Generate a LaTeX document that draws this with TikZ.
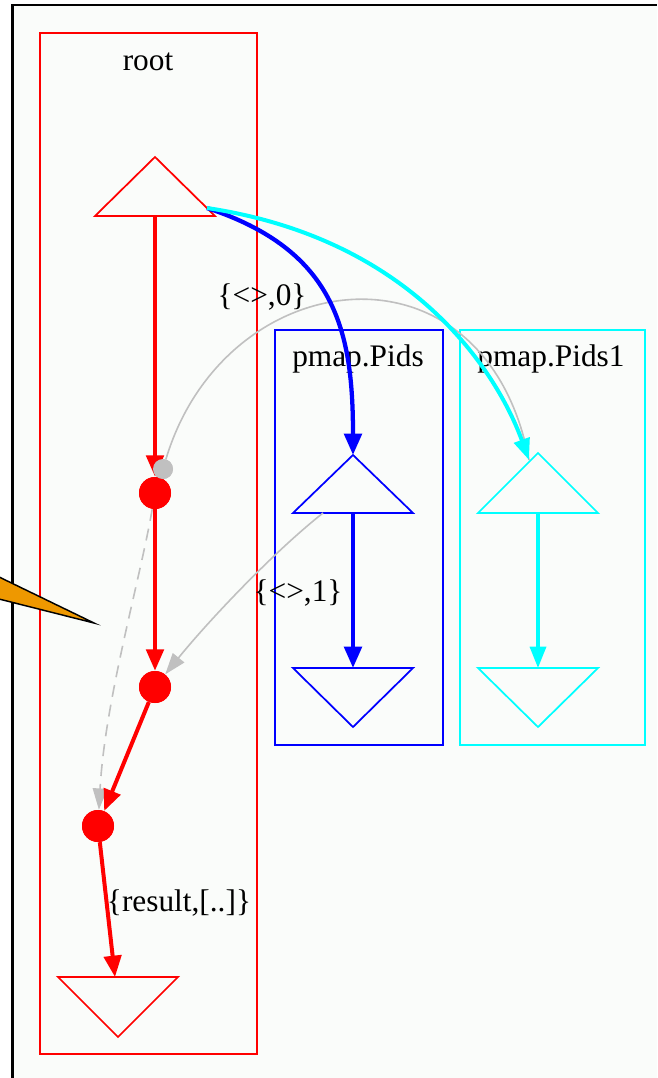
\documentclass[tikz,border=0pt]{standalone}
\usepackage{fontspec}
\setmainfont{Liberation Serif}
\usetikzlibrary{arrows.meta}
\definecolor{bgc}{RGB}{250,252,250}
\definecolor{edgegray}{RGB}{192,192,192}
\definecolor{calloutc}{RGB}{238,152,0}
\definecolor{cyn}{RGB}{0,255,255}
\definecolor{blu}{RGB}{0,0,255}
\definecolor{rd}{RGB}{255,0,0}
\begin{document}
\begin{tikzpicture}[x=0.75pt,y=-0.75pt,
  lbl/.style={font=\fontsize{23.5}{28}\selectfont, inner sep=0pt},
  cluster/.style={line width=1.4pt},
  tri/.style={line width=1.3pt, line join=miter},
  dotnode/.style={circle, fill=rd, inner sep=0pt, minimum size=24pt},
  tailnode/.style={circle, fill=edgegray, inner sep=0pt, minimum size=15pt},
  redge/.style={draw=rd, line width=3pt, -{Triangle[length=16pt,width=13pt]}},
  bedge/.style={draw=blu, line width=3.2pt, -{Triangle[length=16pt,width=13pt]}},
  cedge/.style={draw=cyn, line width=3pt, -{Triangle[length=16pt,width=12pt]}},
  gedge/.style={draw=edgegray, line width=1.2pt},
  garrow/.style={-{Triangle[length=16pt,width=11pt]}},
]
% canvas
\useasboundingbox (0,0) rectangle (657,1078);
\fill[white] (0,0) rectangle (657,1078);
\fill[bgc] (12.5,5) rectangle (657,1078);
\draw[black, line width=2.2pt] (12.5,1078) -- (12.5,5) -- (657,5);

% clusters
\draw[cluster, rd] (40,33) rectangle (257,1054);
\draw[cluster, blu] (275,330) rectangle (443,745);
\draw[cluster, cyn] (460,330) rectangle (645,745);
\node[lbl] (lroot) at (148,62) {root};
\node[lbl] (lpids) at (358,359) {pmap.Pids};
\node[lbl] (lpids1) at (551,359) {pmap.Pids1};

% triangles
\draw[tri, rd] (155,157) -- (215,216) -- (95,216) -- cycle;
\draw[tri, rd] (58,977) -- (178,977) -- (118,1037) -- cycle;
\draw[tri, blu] (353,455) -- (413,513) -- (293,513) -- cycle;
\draw[tri, blu] (293,668) -- (413,668) -- (353,727) -- cycle;
\draw[tri, cyn] (538,453) -- (598,513) -- (478,513) -- cycle;
\draw[tri, cyn] (478,668) -- (598,668) -- (538,727) -- cycle;

\coordinate (rootSb) at (155,216);
\coordinate (rootSr) at (207,208);
\coordinate (rootEt) at (115,977);
\coordinate (pidsSa) at (353,455);
\coordinate (pidsSb) at (353,513);
\coordinate (pidsSg) at (323,513);
\coordinate (pidsEt) at (353,668);
\coordinate (pids1Sa) at (529,460);
\coordinate (pids1Sb) at (538,513);
\coordinate (pids1Et) at (538,668);

% dots
\node[dotnode] (d1) at (155,493) {};
\node[dotnode] (d2) at (155,687) {};
\node[dotnode] (d3) at (98,826) {};
\node[tailnode] (g) at (163,469) {};

% gray edges
\draw[gedge] (g) .. controls (225,262) and (485,230) .. (pids1Sa);
\draw[gedge, garrow] (pidsSg) .. controls (270,555) and (205,625) .. (d2);
\draw[gedge, garrow, dash pattern=on 9pt off 6pt] (d1) .. controls (140,580) and (105,700) .. (d3);

% coloured edges
\draw[bedge] (rootSr) .. controls (335,250) and (353,330) .. (pidsSa);
\draw[cedge] (rootSr) .. controls (420,240) and (500,380) .. (pids1Sa);
\draw[bedge] (pidsSb) -- (pidsEt);
\draw[cedge, line width=2.5pt] (pids1Sb) -- (pids1Et);
\draw[redge] (rootSb) -- (d1);
\draw[redge] (d1) -- (d2);
\draw[redge] (d2) -- (d3);
\draw[redge] (d3) -- (rootEt);

% redraw dots over edges
\node[dotnode] at (d1) {};
\node[dotnode] at (d2) {};
\node[dotnode] at (d3) {};
\node[tailnode] at (g) {};

% edge labels
\node[lbl] (l0) at (262,297) {\{<>,0\}};
\node[lbl] (l1) at (298,593) {\{<>,1\}};
\node[lbl] (lr) at (179,903) {\{result,[..]\}};

% callout
\draw[fill=calloutc, line width=1.1pt, line join=miter] (-5,575) -- (94,623) -- (-5,598) -- cycle;
\end{tikzpicture}
\end{document}
